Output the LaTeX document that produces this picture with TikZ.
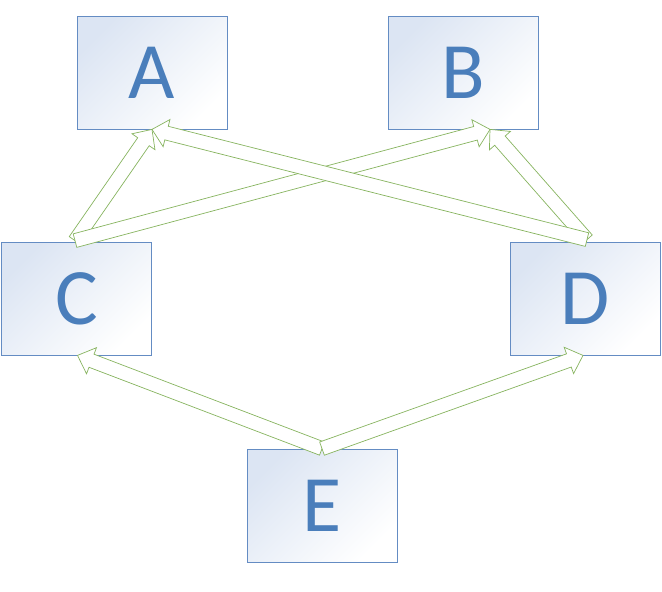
\documentclass[tikz,border=0pt]{standalone}
\usepackage{fontspec}
\setmainfont{Carlito}
\usetikzlibrary{calc}
\definecolor{txtblue}{RGB}{74,126,187}
\definecolor{edgeblue}{RGB}{100,140,195}
\definecolor{lightfill}{RGB}{220,229,243}
\definecolor{arrowgreen}{RGB}{135,180,95}
\tikzset{
  box/.style={draw=edgeblue, line width=0.8pt, minimum width=150pt, minimum height=113pt,
    inner sep=0pt, top color=lightfill, bottom color=white, shading angle=45,
    text=txtblue, font=\fontsize{80}{80}\selectfont},
  barrow/.style={draw=arrowgreen, fill=white, line width=0.7pt, line join=miter}
}
\newcommand{\blockarrow}[2]{%
  \coordinate (hb) at ($(#2)!15pt!(#1)$);
  \draw[barrow] ($(#1)!7pt!90:(#2)$) -- ($(hb)!7pt!90:(#2)$) -- ($(hb)!14pt!90:(#2)$)
    -- (#2) -- ($(hb)!14pt!-90:(#2)$) -- ($(hb)!7pt!-90:(#2)$) -- ($(#1)!7pt!-90:(#2)$) -- cycle;}
\begin{document}
\begin{tikzpicture}[x=1pt,y=-1pt]
\useasboundingbox (0,0) rectangle (662,592);
\node[box] (A) at (152,72.5) {A};
\node[box] (B) at (463,72.5) {B};
\node[box] (C) at (76.5,298.5) {C};
\node[box] (D) at (585,298.5) {D};
\node[box] (E) at (322,505.5) {E};
\coordinate (Ct) at ($(C.north)+(-1.5,-1)$);
\coordinate (Dt) at ($(D.north)+(2,-2)$);
\coordinate (Et) at (E.north);
\coordinate (Ah) at (A.south);
\coordinate (Bh) at ($(B.south)+(27,0)$);
\coordinate (Ch) at ($(C.south)+(1,0)$);
\coordinate (Dh) at ($(D.south)+(-2,0)$);
\blockarrow{Ct}{Ah}
\blockarrow{Ct}{Bh}
\blockarrow{Dt}{Bh}
\blockarrow{Dt}{Ah}
\blockarrow{Et}{Ch}
\blockarrow{Et}{Dh}
\end{tikzpicture}
\end{document}
